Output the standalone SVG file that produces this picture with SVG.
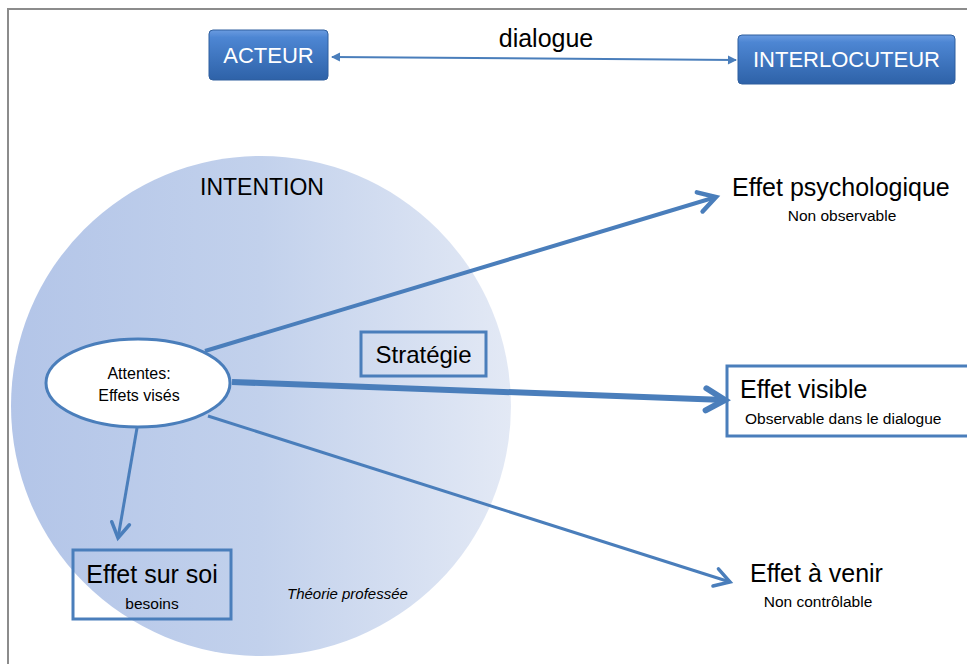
<svg xmlns="http://www.w3.org/2000/svg" width="967" height="664" viewBox="0 0 967 664">
<defs>
<linearGradient id="circ" x1="0" y1="0" x2="1" y2="0">
<stop offset="0" stop-color="#b3c5e8"/>
<stop offset="0.5" stop-color="#c2d1ec"/>
<stop offset="1" stop-color="#e3e9f5"/>
</linearGradient>
<linearGradient id="btn" x1="0" y1="0" x2="0" y2="1">
<stop offset="0" stop-color="#6a9be0"/>
<stop offset="0.15" stop-color="#4d86d3"/>
<stop offset="1" stop-color="#2e62a8"/>
</linearGradient>
<marker id="open3" markerUnits="userSpaceOnUse" markerWidth="40" markerHeight="40" refX="0" refY="0" viewBox="-20 -20 40 40" orient="auto" overflow="visible">
<path d="M-15,-9 L0,0 L-15,9" fill="none" stroke="#4a7ebb" stroke-width="3.5" stroke-linecap="round"/>
</marker>
<marker id="open4" markerUnits="userSpaceOnUse" markerWidth="40" markerHeight="40" refX="0" refY="0" viewBox="-20 -20 40 40" orient="auto" overflow="visible">
<path d="M-17,-10 L0,0 L-17,10" fill="none" stroke="#4a7ebb" stroke-width="4.5" stroke-linecap="round"/>
</marker>
<marker id="open6" markerUnits="userSpaceOnUse" markerWidth="40" markerHeight="40" refX="0" refY="0" viewBox="-20 -20 40 40" orient="auto" overflow="visible">
<path d="M-19,-11 L0,0 L-19,11" fill="none" stroke="#4a7ebb" stroke-width="6" stroke-linecap="round"/>
</marker>
<marker id="tri" markerUnits="userSpaceOnUse" markerWidth="20" markerHeight="20" refX="0" refY="0" viewBox="-10 -10 20 20" orient="auto-start-reverse" overflow="visible">
<path d="M-8,-4.5 L1,0 L-8,4.5 Z" fill="#4a7ebb"/>
</marker>
<style>
text{font-family:"Liberation Sans",Arial,sans-serif;fill:#000}
.big{font-size:25px}
.btxt{font-size:22px;fill:#fff}
.box{fill:none;stroke:#4a7ebb;stroke-width:3}
.conn{stroke:#4a7ebb;fill:none}
</style>
</defs>
<rect width="967" height="664" fill="#fff"/>
<path d="M8,664 V9 H967" fill="none" stroke="#8c8c8c" stroke-width="2"/>

<g id="intention">
<circle cx="261" cy="406" r="250" fill="url(#circ)"/>
<text x="200" y="195" font-size="23">INTENTION</text>
<text x="287" y="599" font-size="15" font-style="italic">Théorie professée</text>
</g>

<g id="connectors">
<line class="conn" x1="332" y1="57" x2="736" y2="60" stroke-width="2" marker-start="url(#tri)" marker-end="url(#tri)"/>
<line class="conn" x1="205" y1="351" x2="716" y2="197" stroke-width="4" marker-end="url(#open4)"/>
<line class="conn" x1="232" y1="382" x2="725" y2="400" stroke-width="6" marker-end="url(#open6)"/>
<line class="conn" x1="208" y1="416" x2="730" y2="582" stroke-width="3" marker-end="url(#open3)"/>
<line class="conn" x1="137" y1="428" x2="118" y2="538" stroke-width="3" marker-end="url(#open3)"/>
</g>

<text x="546" y="47" text-anchor="middle" font-size="25">dialogue</text>

<g id="acteur">
<rect x="209" y="30" width="119" height="50" rx="4" fill="url(#btn)" stroke="#2f5f9e" stroke-width="1"/>
<text class="btxt" x="268.5" y="63" text-anchor="middle">ACTEUR</text>
</g>

<g id="interlocuteur">
<rect x="738" y="35" width="217" height="49" rx="4" fill="url(#btn)" stroke="#2f5f9e" stroke-width="1"/>
<text class="btxt" x="846.5" y="67" text-anchor="middle">INTERLOCUTEUR</text>
</g>

<g id="attentes">
<ellipse cx="138" cy="383" rx="92" ry="44" fill="#fff" stroke="#4a7ebb" stroke-width="3"/>
<text x="139" y="379" text-anchor="middle" font-size="16">Attentes:</text>
<text x="139" y="401" text-anchor="middle" font-size="16">Effets visés</text>
</g>

<g id="strategie">
<rect class="box" x="361" y="332" width="125" height="44"/>
<text x="423.5" y="363" text-anchor="middle" font-size="24">Stratégie</text>
</g>

<g id="effet-psychologique">
<text class="big" x="732" y="196">Effet psychologique</text>
<text x="842" y="221" text-anchor="middle" font-size="15.5">Non observable</text>
</g>

<g id="effet-visible">
<rect class="box" x="727" y="366" width="245" height="70"/>
<text class="big" x="740" y="398">Effet visible</text>
<text x="745" y="424" font-size="15.5">Observable dans le dialogue</text>
</g>

<g id="effet-venir">
<text class="big" x="750" y="582">Effet à venir</text>
<text x="818" y="607" text-anchor="middle" font-size="15.5">Non contrôlable</text>
</g>

<g id="effet-soi">
<rect class="box" x="73" y="550" width="158" height="69"/>
<text class="big" x="152" y="583" text-anchor="middle">Effet sur soi</text>
<text x="152" y="609" text-anchor="middle" font-size="15.5">besoins</text>
</g>
</svg>
